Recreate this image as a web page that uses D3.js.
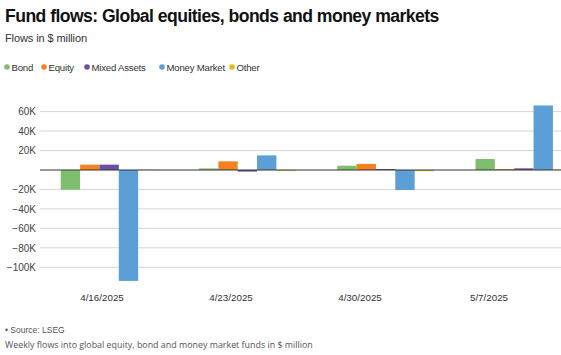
<!DOCTYPE html>
<html><head><meta charset="utf-8">
<script src="https://cdn.jsdelivr.net/npm/d3@7"></script>
<style>
body{margin:0;background:#fff;}
svg{display:block;}
</style></head>
<body><svg id="c" width="561" height="355"></svg>
<script>
const dates = ["4/16/2025","4/23/2025","4/30/2025","5/7/2025"];
const seriesNames = ["Bond","Equity","Mixed Assets","Money Market","Other"];
const seriesColors = ["#7fbe6e","#f58220","#6b4fa3","#5b9fd6","#e9b520"];
const bond   = [-20.3, 1.6, 4.4, 11.3];
const equity = [5.5, 8.9, 6.2, 1.0];
const mixed  = [5.5, -1.7, 1.0, 1.7];
const money  = [-114.0, 15.0, -20.6, 66.3];
const other  = [0.3, -0.8, -1.2, 0.5];
const yTicks = [60,40,20,0,-20,-40,-60,-80,-100];
const yTickLabels = ["60K","40K","20K","","\u221220K","\u221240K","\u221260K","\u221280K","\u2212100K"];

const svg = d3.select("#c");
const font = "'Liberation Sans', Arial, Helvetica, sans-serif";
const seriesVals = [bond, equity, mixed, money, other];

svg.append("text").attr("x",5).attr("y",22).attr("font-family",font).attr("font-weight","bold")
  .attr("font-size",17.6).attr("fill","#111").attr("letter-spacing","-0.55").text("Fund flows: Global equities, bonds and money markets");
svg.append("text").attr("x",5).attr("y",42).attr("font-family",font)
  .attr("font-size",11).attr("fill","#333").attr("letter-spacing","-0.1").text("Flows in $ million");

// legend
const leg = svg.append("g").attr("font-family",font).attr("font-size",9.6).attr("fill","#333").attr("letter-spacing","-0.2");
const legX = [7, 44, 87, 162, 232];
seriesNames.forEach((n,i)=>{
  leg.append("circle").attr("cx",legX[i]).attr("cy",67).attr("r",2.8).attr("fill",seriesColors[i]);
  leg.append("text").attr("x",legX[i]+4.5).attr("y",70.5).text(n);
});

const y = d3.scaleLinear().domain([-100,60]).range([267.3,111.6]);
const x0 = d3.scaleBand().domain(dates).range([40,593]).paddingInner(0.3).paddingOuter(0.15);
const x1 = d3.scaleBand().domain(seriesNames).range([0,x0.bandwidth()]);
const xl = d3.scalePoint().domain(dates).range([101.5,488.5]);

// gridlines
const grid = svg.append("g");
grid.selectAll("line").data(yTicks.filter(d=>d!==0)).join("line")
  .attr("x1",40).attr("x2",561).attr("y1",d=>y(d)).attr("y2",d=>y(d))
  .attr("stroke","#d6d6d6").attr("stroke-width",1);

// y axis labels
const yAxis = d3.axisLeft(y).tickValues(yTicks).tickFormat((d,i)=>yTickLabels[i]).tickSize(0).tickPadding(0);
const ya = svg.append("g").attr("transform","translate(36,0)").call(yAxis);
ya.select(".domain").remove();
ya.selectAll("text").attr("font-family",font).attr("font-size",10).attr("fill","#444");

// bars
svg.append("clipPath").attr("id","clip").append("rect").attr("x",0).attr("y",0).attr("width",561).attr("height",355);
const g = svg.append("g").attr("clip-path","url(#clip)");
dates.forEach((dt,di)=>{
  seriesNames.forEach((s,si)=>{
    const v = seriesVals[si][di];
    g.append("rect")
      .attr("x",x0(dt)+x1(s))
      .attr("width",x1.bandwidth())
      .attr("y",y(Math.max(0,v)))
      .attr("height",Math.abs(y(v)-y(0)))
      .attr("fill",seriesColors[si]);
  });
});

// zero line
svg.append("line").attr("x1",40).attr("x2",561).attr("y1",y(0)).attr("y2",y(0)).attr("stroke","#333").attr("stroke-width",1.2);

// x labels
const xAxis = d3.axisBottom(xl).tickSize(0).tickPadding(0);
const xa = svg.append("g").attr("transform","translate(0,294)").call(xAxis);
xa.select(".domain").remove();
xa.selectAll("text").attr("font-family",font).attr("font-size",9.8).attr("fill","#333");

svg.append("text").attr("x",5).attr("y",333).attr("font-family",font).attr("font-size",8.5).attr("fill","#555").text("\u2022 Source: LSEG");
svg.append("text").attr("x",5).attr("y",348).attr("font-family","'Open Sans', sans-serif").attr("font-size",8.9).attr("fill","#555").text("Weekly flows into global equity, bond and money market funds in $ million");
</script></body></html>
